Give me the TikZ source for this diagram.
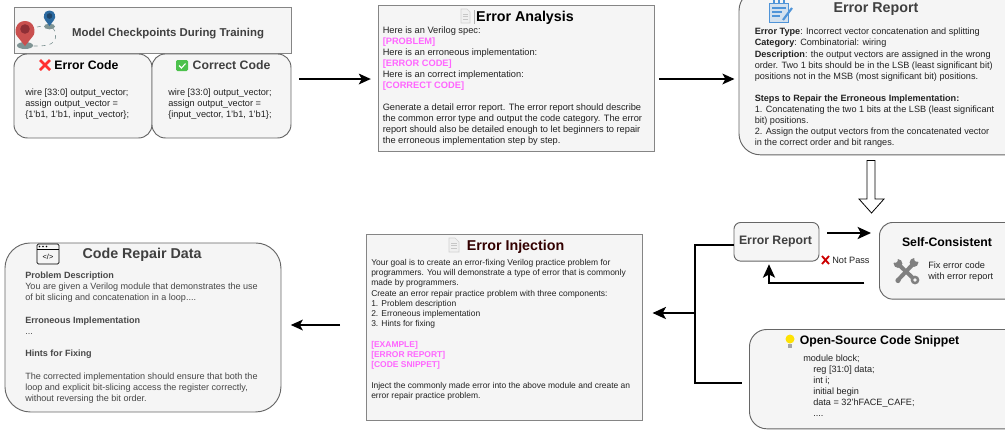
\documentclass[tikz,border=0pt]{standalone}
\usepackage{fontspec}
\setmainfont{Liberation Sans}
\usetikzlibrary{arrows.meta}
\definecolor{boxfill}{HTML}{F5F5F5}
\definecolor{boxline}{HTML}{666666}
\definecolor{pinkish}{HTML}{FF66FF}
\definecolor{maroon}{HTML}{330000}
\definecolor{txt}{HTML}{222222}
\definecolor{pinred}{HTML}{C9504F}
\definecolor{pindark}{HTML}{8E2F36}
\definecolor{pinblue}{HTML}{2C6AA0}
\definecolor{pinnavy}{HTML}{1E4468}
\definecolor{pinbase}{HTML}{7F9494}
\definecolor{padblue}{HTML}{4F94D8}
\newcommand{\fs}[2]{\fontsize{#1pt}{#2pt}\selectfont}
\newcommand{\pk}[1]{\textcolor{pinkish}{\textbf{#1}}}
\tikzset{
  x=.75pt,y=-.75pt,
  sqbox/.style={draw=boxline!80,fill=boxfill,line width=.9pt,anchor=north west,inner sep=0pt},
  rbox/.style={draw=boxline,fill=boxfill,line width=.7pt,anchor=north west,inner sep=0pt},
  lbl/.style={anchor=north west,inner sep=0pt,align=left,text=txt},
  ttl/.style={anchor=center,inner sep=0pt,font=\bfseries},
  arr/.style={line width=1.5pt,-{Stealth[length=9pt,width=8pt,inset=2.2pt]}},
  heavyarr/.style={line width=1.9pt,-{Stealth[length=10pt,width=9pt,inset=2.4pt]}},
  wire/.style={line width=1.9pt},
  docicon/.style={draw=black!18,fill=black!6,line width=.5pt},
}
\begin{document}
\begin{tikzpicture}
\useasboundingbox (0,0) rectangle (1005,429);
\clip (0,0) rectangle (1005,429);
% boxes
\node[sqbox,minimum width=207.75pt,minimum height=34.5pt] (hdr) at (13.5,7) {};
\node[rbox,rounded corners=10pt,minimum width=103.5pt,minimum height=63pt] (bad) at (13.5,53.5) {};
\node[rbox,rounded corners=10pt,minimum width=104.25pt,minimum height=63pt] (good) at (151.5,53.5) {};
\node[sqbox,minimum width=207pt,minimum height=109.5pt] (ana) at (377.5,5) {};
\node[rbox,rounded corners=16pt,minimum width=220pt,minimum height=124pt] (rep) at (738.5,-11) {};
\node[rbox,rounded corners=5pt,minimum width=63.75pt,minimum height=29pt] (err) at (733.5,222) {};
\node[rbox,rounded corners=10pt,minimum width=110pt,minimum height=57.5pt] (sc) at (879,222) {};
\node[rbox,rounded corners=13pt,minimum width=205pt,minimum height=74.5pt] (oss) at (749,329) {};
\node[sqbox,minimum width=207pt,minimum height=139.5pt] (inj) at (366,234) {};
\node[rbox,rounded corners=19pt,minimum width=207pt,minimum height=126.75pt] (rep2) at (4.5,242.5) {};
% header
\node[ttl,text=black!75,font=\bfseries\fs{8.55}{10}] (hdrt) at (168,34) {Model Checkpoints During Training};
% pins
\draw[pinbase,dashed,line width=.45pt,fill=none] (37,27) .. controls (55,23) and (57,32) .. (55,40) .. controls (52,46) and (42,46) .. (33,46);
\fill[pinbase] (25,45.5) ellipse [x radius=8,y radius=3.5];
\fill[pinred] (25,21) .. controls (15,21) and (14,33) .. (17,36) -- (25,46) -- (33,36) .. controls (36,33) and (35,21) .. (25,21) -- cycle;
\fill[pindark] (25,29) circle [radius=4.8];
\fill[pinbase] (49.5,26.5) ellipse [x radius=5.5,y radius=2.8];
\fill[pinblue] (49.5,10.5) .. controls (43,10.5) and (43,18) .. (45,20) -- (49.5,26) -- (54,20) .. controls (56,18) and (56,10.5) .. (49.5,10.5) -- cycle;
\fill[pinnavy] (49.5,16) circle [radius=2.8];
% code boxes
\draw[color=red!75!pink,line width=2pt] (40,60) -- (50,70) (50,60) -- (40,70);
\node[ttl,text=black,font=\bfseries\fs{9.2}{11}] (badt) at (86.5,65.5) {Error Code};
\fill[green!65!black!70!white,rounded corners=1pt] (176,60) rectangle (188,71);
\draw[white,line width=.8pt] (179,65.5) -- (181.5,68) -- (185.5,63.5);
\node[ttl,text=black!75,font=\bfseries\fs{9.2}{11}] (goodt) at (231.5,65.5) {Correct Code};
\node[lbl,font=\fs{6.9}{8.2}] (badc) at (25,88.5) {wire [33:0] output\_vector;\\assign output\_vector =\\\{1'b1, 1'b1, input\_vector\};};
\node[lbl,font=\fs{6.9}{8.2}] (goodc) at (168,88.5) {wire [33:0] output\_vector;\\assign output\_vector =\\\{input\_vector, 1'b1, 1'b1\};};
% analysis
\draw[docicon] (461,9) -- (467,9) -- (470,12) -- (470,23) -- (461,23) -- cycle;
\draw[black!22,line width=.5pt] (463,14) -- (468,14) (463,16.5) -- (468,16.5) (463,19) -- (468,19);
\draw[black!30,line width=.4pt] (474.5,10) -- (474.5,24);
\node[ttl,text=black,font=\bfseries\fs{10.7}{12}] (anat) at (525,17.5) {Error Analysis};
\node[lbl,font=\fs{6.95}{8.25}] (anab) at (382.5,26.5) {Here is an Verilog spec:\\\pk{[PROBLEM]}\\Here is an erroneous implementation:\\\pk{[ERROR CODE]}\\Here is an correct implementation:\\\pk{[CORRECT CODE]}\\[8.25pt]Generate a detail error report. The error report should describe\\the common error type and output the code category. The error\\report should also be detailed enough to let beginners to repair\\the erroneous implementation step by step.};
% report
\fill[padblue,fill opacity=.2] (769,3) rectangle (789,22);
\draw[padblue,line width=.7pt] (769.5,3) rectangle (788,22);
\draw[padblue,line width=.8pt] (774,0) -- (774,4) (779,0) -- (779,4) (784,0) -- (784,4) (772,8) -- (786,8) (772,12) -- (782,12) (772,16) -- (780,16);
\draw[padblue,line width=1.6pt] (783,20) -- (792,8);
\node[ttl,text=black!75,font=\bfseries\fs{10.7}{12}] (rept) at (876,9.5) {Error Report};
\node[lbl,font=\fs{6.85}{8.33}] (repb) at (754.5,28) {\textbf{Error Type}: Incorrect vector concatenation and splitting\\\textbf{Category}: Combinatorial: wiring\\\textbf{Description}: the output vectors are assigned in the wrong\\order. Two 1 bits should be in the LSB (least significant bit)\\positions not in the MSB (most significant bit) positions.\\[8.33pt]\textbf{Steps to Repair the Erroneous Implementation:}\\1. Concatenating the two 1 bits at the LSB (least significant\\bit) positions.\\2. Assign the output vectors from the concatenated vector\\in the correct order and bit ranges.};
% hollow arrow
\draw[black,fill=white,line width=.6pt] (867,160.5) -- (875,160.5) -- (875,199) -- (884,199) -- (871.5,213) -- (859,199) -- (867,199) -- cycle;
% small report
\node[ttl,text=black!75,font=\bfseries\fs{9.2}{10}] (errt) at (775.5,241.5) {Error Report};
\draw[red!80!black,fill=none,line width=1.4pt] (822,256) -- (829,264) (829,256) -- (822,264);
\node[lbl,font=\fs{6.9}{8}] (np) at (832,256.5) {Not Pass};
% self consistent
\node[ttl,text=black,font=\bfseries\fs{9.2}{10}] (sct) at (947,242.5) {Self-Consistent};
\node[lbl,font=\fs{6.9}{8.3}] (scb) at (928,261.5) {Fix error code\\with error report};
\draw[gray,line width=3pt] (898,264) -- (915,280) (914,263) -- (898,280);
\fill[gray] (898,263.5) circle [radius=4.4] (914,262.5) circle [radius=4.4] (915,280) circle [radius=4.4] (898,280.5) circle [radius=2.6];
\fill[boxfill] (895,260) circle [radius=2.8] (917,259) circle [radius=2.8];
\fill[boxfill] (915,280) circle [radius=1.8];
% open source
\fill[yellow!85!orange] (790,339) circle [radius=4.5];
\fill[gray!70] (788,344) rectangle (792,348);
\node[ttl,text=black,font=\bfseries\fs{9.2}{11}] (osst) at (879.5,341.5) {Open-Source Code Snippet};
\node[lbl,font=\fs{6.85}{8.3}] (ossb) at (803,354.5) {module block;\\\hspace*{7.5pt}reg [31:0] data;\\\hspace*{7.5pt}int i;\\\hspace*{7.5pt}initial begin\\\hspace*{7.5pt}data = 32'hFACE\_CAFE;\\\hspace*{7.5pt}....};
% injection
\draw[docicon] (449,238) -- (455,238) -- (459,242) -- (459,252) -- (449,252) -- cycle;
\draw[black!22,line width=.5pt] (451,243) -- (457,243) (451,245.5) -- (457,245.5) (451,248) -- (457,248);
\node[ttl,text=maroon,font=\bfseries\fs{10.7}{12}] (injt) at (515.5,246.5) {Error Injection};
\node[lbl,font=\fs{6.35}{7.65}] (injb) at (371,259) {Your goal is to create an error-fixing Verilog practice problem for\\programmers. You will demonstrate a type of error that is commonly\\made by programmers.\\Create an error repair practice problem with three components:\\1. Problem description\\2. Erroneous implementation\\3. Hints for fixing\\[7.65pt]\pk{[EXAMPLE]}\\\pk{[ERROR REPORT]}\\\pk{[CODE SNIPPET]}\\[8pt]Inject the commonly made error into the above module and create an\\error repair practice problem.};
% code repair
\draw[black,line width=.6pt,rounded corners=1pt] (37,244) rectangle (59,264);
\draw[black,line width=.6pt] (37,249) -- (59,249);
\fill[black] (39.5,246.5) circle [radius=.9] (43,246.5) circle [radius=.9] (46.5,246.5) circle [radius=.9];
\node[ttl,font=\fs{5.5}{6},text=black] (crd) at (48,256.5) {</>};
\node[ttl,text=black!75,font=\bfseries\fs{10.7}{12}] (rep2t) at (142,254.5) {Code Repair Data};
\node[lbl,font=\fs{6.8}{8.4},text=black!72] (rep2b) at (25,271.5) {\textbf{Problem Description}\\You are given a Verilog module that demonstrates the use\\of bit slicing and concatenation in a loop....\\[8.4pt]\textbf{Erroneous Implementation}\\...\\[8.4pt]\textbf{Hints for Fixing}\\[8.4pt]The corrected implementation should ensure that both the\\loop and explicit bit-slicing access the register correctly,\\without reversing the bit order.};
% connectors
\draw[arr,shorten <=6pt,shorten >=5pt] (good.east |- 0,79) -- (ana.west |- 0,79);
\draw[arr,shorten <=3.5pt,shorten >=3pt] (ana.east |- 0,79) -- (rep.west |- 0,79);
\draw[heavyarr,shorten <=6pt,shorten >=6pt] (err.east |- 0,233) -- (sc.west |- 0,233);
\draw[heavyarr,shorten <=11pt,shorten >=2pt] (sc.west |- 0,283) -- (769,283) -- (769,0 |- err.south);
\coordinate (tj) at (695,313);
\draw[wire,shorten >=5pt] (err.west |- 0,245) -- (695,245) -- (695,383) -- (oss.west |- 0,383);
\draw[heavyarr,shorten >=7pt] (tj) -- (inj.east |- tj);
\draw[arr,shorten <=19.5pt,shorten >=7pt] (inj.west |- 0,325) -- (rep2.east |- 0,325);
\end{tikzpicture}
\end{document}
